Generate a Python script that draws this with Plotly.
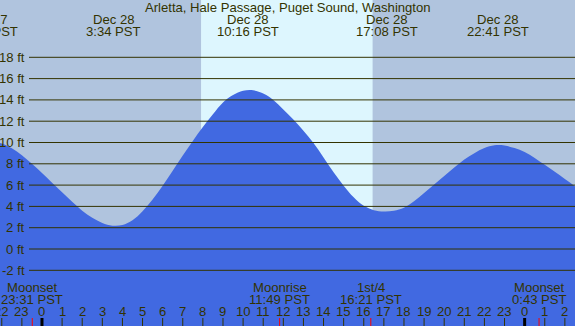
import plotly.graph_objects as go

# ---------------- data (half-hourly) ----------------
tide_hours = [h / 2 for h in range(-6, 55)]
tide_ft = [10.05, 10.05, 9.9, 9.45, 8.8, 8.0, 7.13, 6.23, 5.33, 4.43, 3.6, 2.93, 2.45, 2.19,
           2.25, 2.7, 3.55, 4.65, 5.95, 7.35, 8.77, 10.15, 11.45, 12.65, 13.75, 14.45, 14.85, 14.9,
           14.6, 14.0, 13.1, 12.15, 11.1, 9.95, 8.6, 7.2, 5.95, 4.85, 4.05, 3.65, 3.53, 3.6,
           3.88, 4.48, 5.25, 6.05, 6.85, 7.65, 8.4, 9.0, 9.48, 9.74, 9.72, 9.48, 9.1, 8.55,
           7.9, 7.25, 6.58, 5.9, 5.2]

extreme_hours = [-2.73, 3.567, 10.267, 17.133, 22.683]
extreme_dates = ["Dec 27", "Dec 28", "Dec 28", "Dec 28", "Dec 28"]
extreme_times = ["21:16 PST", "3:34 PST", "10:16 PST", "17:08 PST", "22:41 PST"]

moon_hours = [-0.483, 11.817, 16.35, 24.717]
moon_names = ["Moonset", "Moonrise", "1st/4", "Moonset"]
moon_times = ["23:31 PST", "11:49 PST", "16:21 PST", "0:43 PST"]

hour_ticks = list(range(-2, 27))
hour_labels = ["22", "23"] + [str(h) for h in range(0, 24)] + ["0", "1", "2"]
midnights = [0, 24]

ft_ticks = [-2, 0, 2, 4, 6, 8, 10, 12, 14, 16, 18]
ft_labels = ["-2 ft", "0 ft", "2 ft", "4 ft", "6 ft", "8 ft", "10 ft", "12 ft", "14 ft", "16 ft", "18 ft"]

sunrise, sunset = 7.91, 16.44
title = "Arletta, Hale Passage, Puget Sound, Washington"

# ---------------- layout constants ----------------
W, H = 575, 326
X0, X1 = -2.088, 26.504
Y0, Y1 = -7.23, 23.38
NIGHT = "#b0c4de"
DAY = "#ddf6fe"
BLUE = "#4169e1"
INK = "#333300"
FONT = "Liberation Sans, Arial, sans-serif"
FS = 13.1


def py(p):
    return 1 - p / H


def pxfrac(h):
    return (h - X0) / (X1 - X0)


fig = go.Figure()
fig.add_trace(go.Scatter(x=tide_hours, y=tide_ft, mode="lines", line=dict(width=0, shape="spline", color=BLUE),
                         fill="tozeroy", fillcolor=BLUE, hoverinfo="skip"))

shapes = []
shapes.append(dict(type="rect", xref="x", yref="paper", x0=sunrise, x1=sunset, y0=0, y1=1,
                   fillcolor=DAY, line=dict(width=0), layer="below"))
shapes.append(dict(type="rect", xref="paper", yref="y", x0=0, x1=1, y0=Y0 - 5, y1=0,
                   fillcolor=BLUE, line=dict(width=0), layer="below"))
for v in ft_ticks:
    shapes.append(dict(type="line", xref="paper", yref="y", x0=29 / W, x1=1, y0=v, y1=v,
                       line=dict(color=INK, width=1), layer="above"))
for h in hour_ticks:
    if h in midnights:
        continue
    shapes.append(dict(type="line", xref="x", yref="paper", x0=h, x1=h, y0=0, y1=py(318),
                       line=dict(color=INK, width=1), layer="above"))
for h in midnights:
    shapes.append(dict(type="line", xref="x", yref="paper", x0=h, x1=h, y0=0, y1=py(318),
                       line=dict(color="#000000", width=3), layer="above"))
for h in moon_hours:
    shapes.append(dict(type="line", xref="x", yref="paper", x0=h, x1=h, y0=0, y1=py(318),
                       line=dict(color="#ff0000", width=1), layer="above"))

ann = []
font = dict(family=FONT, size=FS, color=INK)


def add_text(text, xval, ypix, xref="x", xanchor="center"):
    ann.append(dict(text=text, x=xval, y=py(ypix), xref=xref, yref="paper", showarrow=False,
                    xanchor=xanchor, yanchor="middle", font=font))


add_text(title, 0.5, 7.5, xref="paper")
for h, d, t in zip(extreme_hours, extreme_dates, extreme_times):
    if X0 <= h <= X1:
        add_text(d, h, 19.7)
        add_text(t, h, 31.5)
    else:
        add_text(d, pxfrac(h), 19.7, xref="paper")
        add_text(t, pxfrac(h), 31.5, xref="paper")
for h, n, t in zip(moon_hours, moon_names, moon_times):
    add_text(n, h, 287.5)
    add_text(t, h, 299.5)
for h, lab in zip(hour_ticks, hour_labels):
    add_text(lab, h, 311.5)
for v, lab in zip(ft_ticks, ft_labels):
    ann.append(dict(text=lab, x=26.5 / W, y=v, xref="paper", yref="y", showarrow=False,
                    xanchor="right", yanchor="middle", font=font))

fig.update_layout(
    width=W, height=H, margin=dict(l=0, r=0, t=0, b=0, pad=0),
    paper_bgcolor=NIGHT, plot_bgcolor=NIGHT, showlegend=False,
    xaxis=dict(range=[X0, X1], visible=False, fixedrange=True),
    yaxis=dict(range=[Y0, Y1], visible=False, fixedrange=True),
    shapes=shapes, annotations=ann,
)
fig.write_html("out.html", config=dict(displayModeBar=False),
               post_script="document.body.style.margin='0';document.body.style.overflow='hidden';")
